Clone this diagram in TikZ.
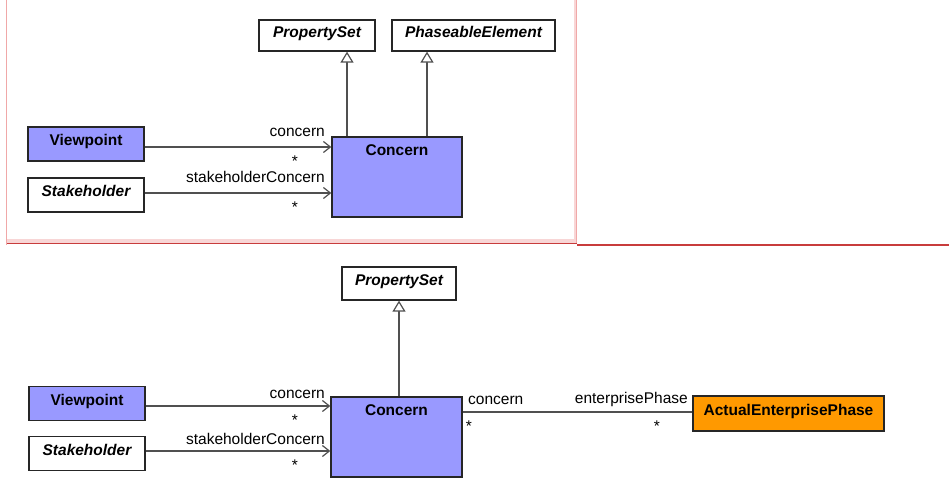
\documentclass[tikz,border=0pt]{standalone}
\usepackage{fontspec}
\setmainfont{Liberation Sans}
\usetikzlibrary{arrows.meta}
\definecolor{cblue}{HTML}{9999FF}
\definecolor{corange}{HTML}{FF9900}
\definecolor{lnc}{HTML}{505050}
\definecolor{pinkband}{HTML}{F8D6D6}
\definecolor{pinkline}{HTML}{F0A8A8}
\definecolor{redline}{HTML}{C83C3C}
\begin{document}
\begin{tikzpicture}[x=1pt,y=-1pt,
  cls/.style={draw=black!85, line width=1.3pt, inner sep=0pt,
    font=\fontsize{15.5}{18}\selectfont\bfseries, text height=11pt, text depth=7pt},
  absc/.style={cls, fill=white, font=\fontsize{15.5}{18}\selectfont\bfseries\itshape},
  concernbox/.style={cls, fill=cblue, minimum width=130pt, minimum height=80pt,
    text height=18.5pt, text depth=61.5pt},
  lbl/.style={inner sep=0pt, font=\fontsize{15.5}{18}\selectfont},
  gen/.style={draw=lnc, line width=1.2pt, -{Triangle[open, length=11pt, width=13pt, fill=white]}},
  assoc/.style={draw=lnc, line width=1.2pt, -{Straight Barb[length=7pt, width=11pt]}},
  plain/.style={draw=lnc, line width=1.2pt}
]
\useasboundingbox (0,0) rectangle (949,478);

% frame of the upper panel
\fill[pinkband] (7,238.5) rectangle (576,243);
\fill[pinkband] (573.5,0) rectangle (576.5,243);
\draw[pinkline, line width=1.3pt] (6.5,0) -- (6.5,245);
\draw[pinkline, line width=1.2pt] (576.8,0) -- (576.8,243);
\draw[redline, line width=1.5pt] (7,243.5) -- (577,243.5);
\draw[redline, line width=1.4pt] (577,245) -- (949,245);

% ---------- upper diagram ----------
\node[absc, minimum width=116pt, minimum height=31pt] (ps1) at (317,35.5) {PropertySet};
\node[absc, minimum width=163pt, minimum height=31pt] (pe1) at (473.5,35.5) {PhaseableElement};
\node[cls, fill=cblue, minimum width=116pt, minimum height=34pt] (vp1) at (86,144) {Viewpoint};
\node[absc, minimum width=116pt, minimum height=34pt] (sh1) at (86,195) {Stakeholder};
\node[concernbox] (c1) at (397,177) {Concern};

\coordinate (g1a) at ([xshift=-50pt]c1.north);
\coordinate (g1b) at ([xshift=30pt]c1.north);
\draw[gen] (g1a) -- (g1a |- ps1.south);
\draw[gen] (g1b) -- (g1b |- pe1.south);

\coordinate (a1) at ([yshift=-3pt]vp1.east);
\coordinate (a2) at ([yshift=2pt]sh1.east);
\draw[assoc] (a1) -- (a1 -| c1.west);
\draw[assoc] (a2) -- (a2 -| c1.west);

\node[lbl, anchor=base east] (l1) at (325,137) {concern};
\node[lbl, anchor=base] (m1) at (295,167) {*};
\node[lbl, anchor=base east] (l2) at (325,183) {stakeholderConcern};
\node[lbl, anchor=base] (m2) at (295,212) {*};

% ---------- lower diagram ----------
\node[absc, minimum width=114pt, minimum height=33pt] (ps2) at (399,283.5) {PropertySet};
\node[cls, fill=cblue, minimum width=116pt, minimum height=34pt] (vp2) at (87,403.5) {Viewpoint};
\node[absc, minimum width=116pt, minimum height=34pt] (sh2) at (87,453.5) {Stakeholder};
\node[concernbox, minimum width=131pt] (c2) at (396.5,437) {Concern};
\node[cls, fill=corange, minimum width=191pt, minimum height=35pt] (aep) at (788.5,413.5) {ActualEnterprisePhase};

\coordinate (g2) at ([xshift=2.5pt]c2.north);
\draw[gen] (g2) -- (g2 |- ps2.south);

\coordinate (b1) at ([yshift=-2.5pt]vp2.east);
\coordinate (b2) at ([yshift=2.5pt]sh2.east);
\draw[assoc] (b1) -- (b1 -| c2.west);
\draw[assoc] (b2) -- (b2 -| c2.west);

\coordinate (b3) at ([yshift=1.5pt]aep.west);
\draw[plain] (b3 -| c2.east) -- (b3);

\node[lbl, anchor=base east] (l3) at (325,398) {concern};
\node[lbl, anchor=base] (m3) at (295,425) {*};
\node[lbl, anchor=base east] (l4) at (325,444) {stakeholderConcern};
\node[lbl, anchor=base] (m4) at (295,470) {*};
\node[lbl, anchor=base west] (l5) at (468,404) {concern};
\node[lbl, anchor=base] (m5) at (469,431) {*};
\node[lbl, anchor=base east] (l6) at (688,403.5) {enterprisePhase};
\node[lbl, anchor=base] (m6) at (657,431) {*};
\end{tikzpicture}
\end{document}
